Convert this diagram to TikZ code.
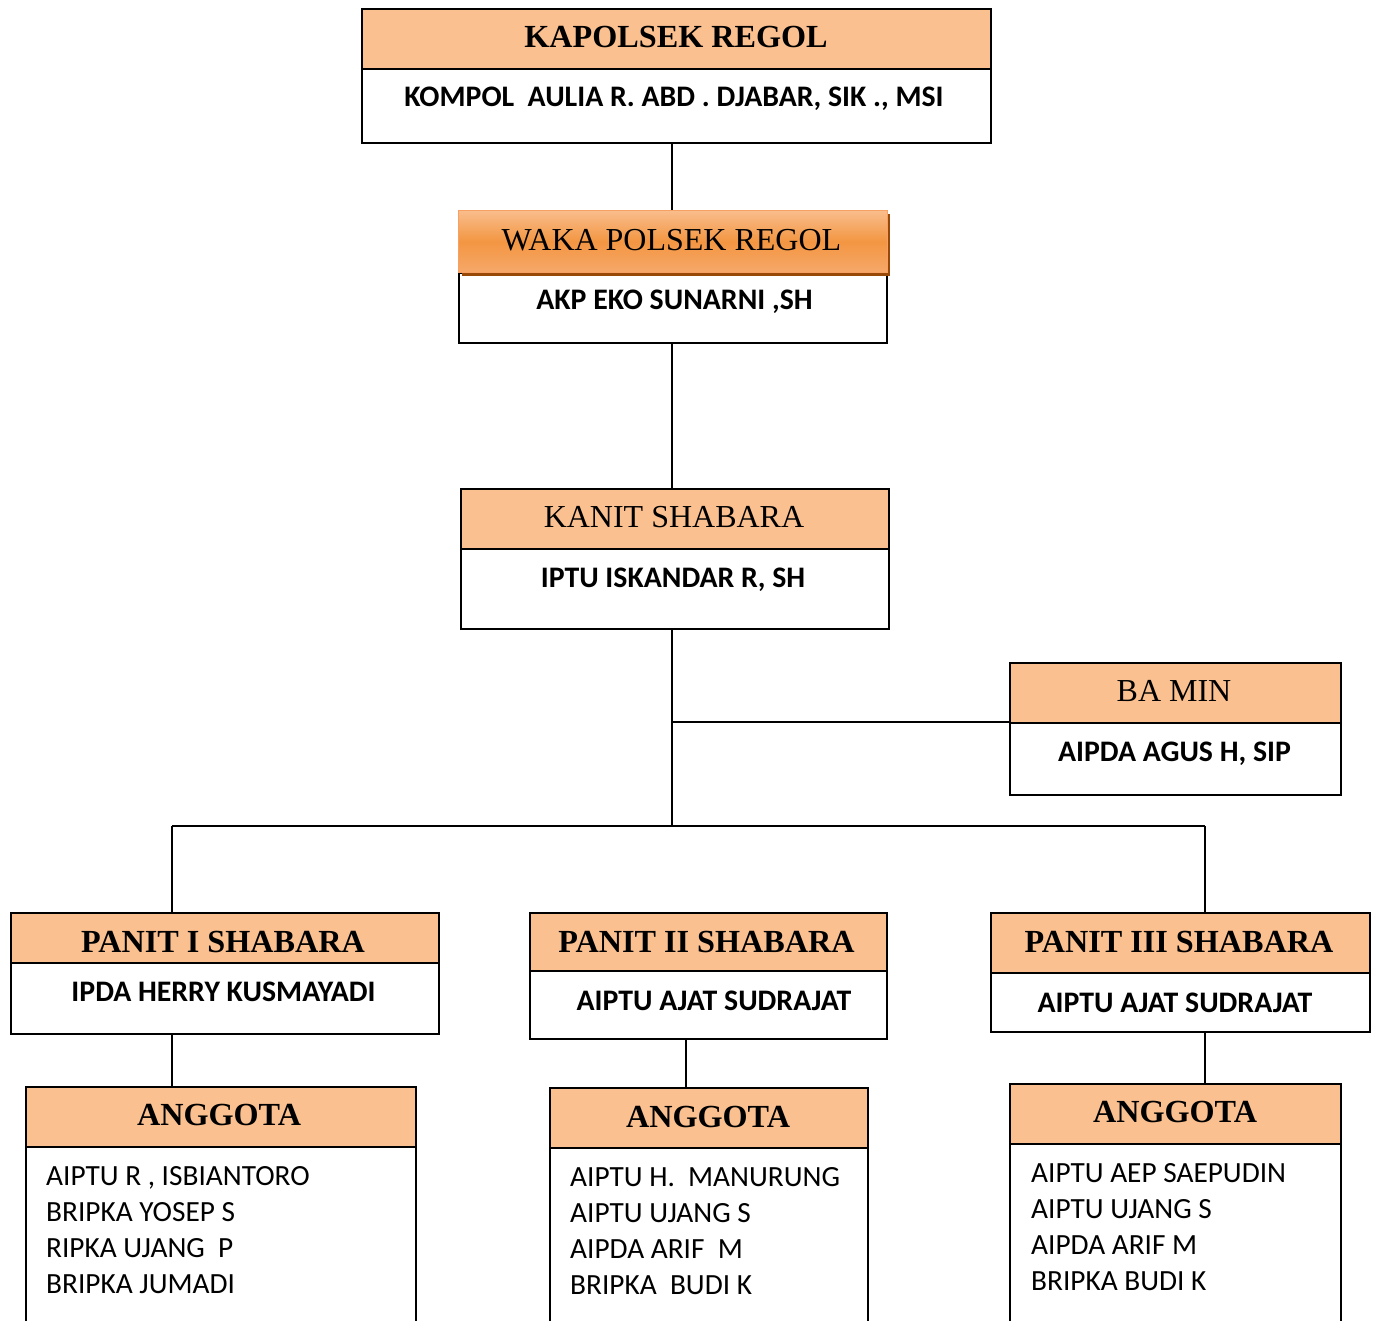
\documentclass[tikz,border=0pt]{standalone}
\usepackage{fontspec}
\setmainfont{Liberation Serif}
\newfontfamily\carl{Carlito}
\definecolor{peach}{HTML}{FAC090}
\definecolor{orgtop}{HTML}{F9BD8C}
\definecolor{orgmid}{HTML}{F39642}
\definecolor{orgbot}{HTML}{F6A86A}
\definecolor{orgline}{HTML}{F7A063}
\definecolor{shadowbrown}{HTML}{984807}
\tikzset{
  boxbase/.style={draw=black, line width=1.6pt, anchor=north west, inner sep=0pt, rectangle},
  hdr/.style={boxbase, fill=peach},
  bdy/.style={boxbase, fill=white},
  link/.style={draw=black, line width=1.4pt},
  hreg/.style={anchor=base, inner sep=0pt, font=\fontsize{32}{36}\selectfont},
  hbold/.style={anchor=base, inner sep=0pt, font=\fontsize{32.2}{36}\selectfont\bfseries},
  nm/.style={anchor=base, inner sep=0pt, font=\carl\fontsize{29.8}{34}\selectfont\bfseries},
  li/.style={anchor=base west, inner sep=0pt, font=\carl\fontsize{29.3}{34}\selectfont},
}
\begin{document}
\begin{tikzpicture}[x=1pt,y=-1pt]
\clip (0,0) rectangle (1374,1321);
\fill[white] (0,0) rectangle (1374,1321);
% KAPOLSEK
\node[hdr, minimum width=629, minimum height=60] (kapH) at (361,8) {};
\node[bdy, minimum width=629, minimum height=74] (kapB) at (361,68) {};
\node[hbold] (kapT) at (676,48) {KAPOLSEK REGOL};
\node[nm] (kapN) at (674,107) {KOMPOL\ \ AULIA R. ABD . DJABAR, SIK ., MSI};
% WAKA
\node[bdy, minimum width=428, minimum height=70] (wakB) at (458,272) {};
\fill[shadowbrown] (462,214) rectangle (890,276);
\node[boxbase, draw=orgline, line width=1.2pt, top color=orgtop, bottom color=orgbot, middle color=orgmid, minimum width=429, minimum height=62] (wakH) at (458,210) {};
\node[hreg] (wakT) at (671.5,251) {WAKA POLSEK REGOL};
\node[nm] (wakN) at (674.5,310) {AKP EKO SUNARNI ,SH};
% KANIT
\node[hdr, minimum width=428, minimum height=60] (kanH) at (460,488) {};
\node[bdy, minimum width=428, minimum height=80] (kanB) at (460,548) {};
\node[hreg] (kanT) at (674,527) {KANIT SHABARA};
\node[nm] (kanN) at (673,587) {IPTU ISKANDAR R, SH};
% BA MIN
\node[hdr, minimum width=331, minimum height=60] (baH) at (1009,662) {};
\node[bdy, minimum width=331, minimum height=72] (baB) at (1009,722) {};
\node[hreg] (baT) at (1174,701) {BA MIN};
\node[nm] (baN) at (1174.5,761) {AIPDA AGUS H, SIP};
% PANIT I
\node[hdr, minimum width=428, minimum height=50] (p1H) at (10,912) {};
\node[bdy, minimum width=428, minimum height=71] (p1B) at (10,962) {};
\node[hbold] (p1T) at (223,952) {PANIT I SHABARA};
\node[nm] (p1N) at (223.5,1001) {IPDA HERRY KUSMAYADI};
% PANIT II
\node[hdr, minimum width=357, minimum height=58] (p2H) at (529,912) {};
\node[bdy, minimum width=357, minimum height=68] (p2B) at (529,970) {};
\node[hbold] (p2T) at (706.5,952) {PANIT II SHABARA};
\node[nm] (p2N) at (714,1010) {AIPTU AJAT SUDRAJAT};
% PANIT III
\node[hdr, minimum width=379, minimum height=60] (p3H) at (990,912) {};
\node[bdy, minimum width=379, minimum height=59] (p3B) at (990,972) {};
\node[hbold] (p3T) at (1179,952) {PANIT III SHABARA};
\node[nm] (p3N) at (1175,1012) {AIPTU AJAT SUDRAJAT};
% ANGGOTA 1
\node[hdr, minimum width=390, minimum height=60] (a1H) at (25,1086) {};
\node[bdy, minimum width=390, minimum height=220] (a1B) at (25,1146) {};
\node[hbold] (a1T) at (219,1125) {ANGGOTA};
\node[li] (a1L1) at (46,1185) {AIPTU R , ISBIANTORO};
\node[li] (a1L2) at (46,1221) {BRIPKA YOSEP S};
\node[li] (a1L3) at (46,1257) {RIPKA UJANG\ \ P};
\node[li] (a1L4) at (46,1293) {BRIPKA JUMADI};
% ANGGOTA 2
\node[hdr, minimum width=318, minimum height=60] (a2H) at (549,1087) {};
\node[bdy, minimum width=318, minimum height=220] (a2B) at (549,1147) {};
\node[hbold] (a2T) at (708,1127) {ANGGOTA};
\node[li] (a2L1) at (570,1186) {AIPTU H.\ \ MANURUNG};
\node[li] (a2L2) at (570,1222) {AIPTU UJANG S};
\node[li] (a2L3) at (570,1258) {AIPDA ARIF\ \ M};
\node[li] (a2L4) at (570,1294) {BRIPKA\ \ BUDI K};
% ANGGOTA 3
\node[hdr, minimum width=331, minimum height=60] (a3H) at (1009,1083) {};
\node[bdy, minimum width=331, minimum height=220] (a3B) at (1009,1143) {};
\node[hbold] (a3T) at (1175,1122) {ANGGOTA};
\node[li] (a3L1) at (1031,1182) {AIPTU AEP SAEPUDIN};
\node[li] (a3L2) at (1031,1218) {AIPTU UJANG S};
\node[li] (a3L3) at (1031,1254) {AIPDA ARIF M};
\node[li] (a3L4) at (1031,1290) {BRIPKA BUDI K};
% connectors
\coordinate (br) at (672,722);
\coordinate (bar) at (672,826);
\coordinate (barL) at (172,826);
\coordinate (barR) at (1205,826);
\draw[link] (kapB.south -| bar) -- (wakH.north -| bar);
\draw[link] (wakB.south -| bar) -- (kanH.north -| bar);
\draw[link] (kanB.south -| bar) -- (bar);
\draw[link] (br) -- (baB.north west);
\draw[link] (barL) -- (barR);
\draw[link] (barL) -- (barL |- p1H.north);
\draw[link] (barR) -- (barR |- p3H.north);
\draw[link] (p1B.south -| barL) -- (a1H.north -| barL);
\draw[link] (686,1038) coordinate (c2) -- (c2 |- a2H.north);
\draw[link] (p3B.south -| barR) -- (a3H.north -| barR);
\end{tikzpicture}
\end{document}
